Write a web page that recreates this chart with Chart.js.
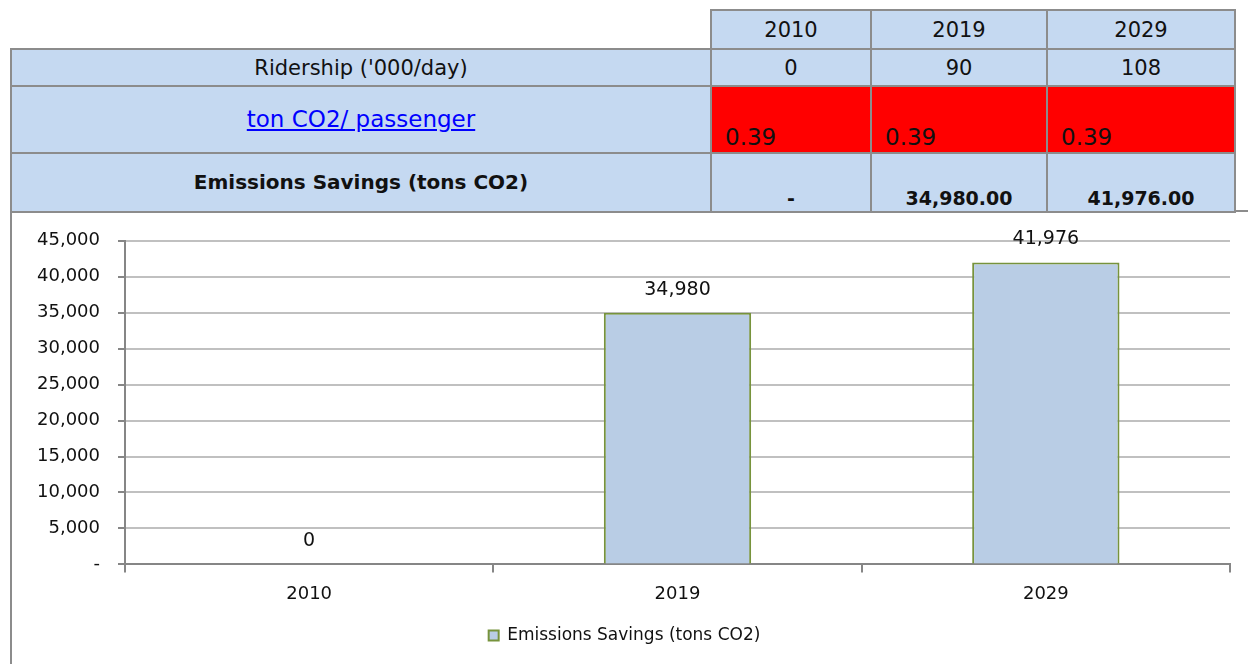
<!DOCTYPE html>
<html>
<head>
<meta charset="utf-8">
<script src="https://cdn.jsdelivr.net/npm/chart.js@4/dist/chart.umd.min.js"></script>
<style>
  body { margin: 0; background: #fff; font-family: "DejaVu Sans", sans-serif; }
  #page { position: relative; width: 1248px; height: 664px; overflow: hidden; }
  #tbl { position: absolute; left: 10px; top: 9px; border-collapse: collapse; table-layout: fixed; }
  #tbl td { border: 2px solid #8c8c8c; background: #c5d9f1; text-align: center; font-size: 21px; color: #111; padding: 0; }
  #tbl td.blank { border: none; background: #fff; }
  #tbl td.red { background: #ff0000; text-align: left; vertical-align: bottom; font-size: 23px; padding-left: 13px; padding-bottom: 2px; }
  #tbl td.bold { font-weight: bold; font-size: 19px; vertical-align: bottom; padding-bottom: 2px; }
  #tbl td.boldlabel { font-weight: bold; font-size: 20px; vertical-align: middle; padding-bottom: 2px; }
  #tbl a { color: #0000ff; text-decoration: underline; font-size: 23px; }
  #chartBox { position: absolute; left: 10px; top: 210px; width: 1260px; height: 470px; border-left: 2px solid #8c8c8c; border-top: 2px solid #8c8c8c; }
  #chartWrap { position: absolute; left: 12px; top: 212px; width: 1236px; height: 452px; }
</style>
</head>
<body>
<div id="page">
  <div id="chartBox"></div>
  <table id="tbl">
    <colgroup>
      <col style="width:700px"><col style="width:160px"><col style="width:176px"><col style="width:188px">
    </colgroup>
    <tbody id="tbody"></tbody>
  </table>
  <div id="chartWrap"><canvas id="myChart"></canvas></div>
</div>
<script>
var years = ['2010', '2019', '2029'];
var ridership = [0, 90, 108];
var co2PerPassenger = [0.39, 0.39, 0.39];
var savings = [0, 34980, 41976];
var seriesName = 'Emissions Savings (tons CO2)';

// build the table above the chart
function fmt(v, dec) {
    return v.toLocaleString('en-US', { minimumFractionDigits: dec, maximumFractionDigits: dec });
}

var rows = [];
rows.push('<tr style="height:39px"><td class="blank"></td>' + years.map(function (y) { return '<td>' + y + '</td>'; }).join('') + '</tr>');
rows.push('<tr style="height:37px"><td>Ridership (\'000/day)</td>' + ridership.map(function (v) { return '<td>' + v + '</td>'; }).join('') + '</tr>');
rows.push('<tr style="height:67px"><td style="vertical-align:middle;padding-bottom:2px"><a href="#">ton CO2/ passenger</a></td>' + co2PerPassenger.map(function (v) { return '<td class="red">' + v.toFixed(2) + '</td>'; }).join('') + '</tr>');
rows.push('<tr style="height:59px"><td class="boldlabel">' + seriesName + '</td>' + savings.map(function (v) { return '<td class="bold">' + (v === 0 ? '-' : fmt(v, 2)) + '</td>'; }).join('') + '</tr>');
document.getElementById('tbody').innerHTML = rows.join('');

// value labels above bars
var valueLabels = {
    id: 'valueLabels',
    afterDatasetsDraw: function (chart) {
        var ctx = chart.ctx;
        var meta = chart.getDatasetMeta(0);
        ctx.save();
        ctx.font = '19px "DejaVu Sans"';
        ctx.fillStyle = '#111';
        ctx.textAlign = 'center';
        ctx.textBaseline = 'middle';
        meta.data.forEach(function (bar, i) {
            ctx.fillText(fmt(savings[i], 0), bar.x, bar.y - 23);
        });
        ctx.restore();
    }
};

var ctx = document.getElementById('myChart').getContext('2d');
var myChart = new Chart(ctx, {
    type: 'bar',
    data: {
        labels: years,
        datasets: [{
            label: seriesName,
            data: savings,
            backgroundColor: '#b9cde5',
            borderColor: '#77933c',
            borderWidth: 2,
            categoryPercentage: 0.4,
            barPercentage: 1.0
        }]
    },
    options: {
        responsive: true,
        maintainAspectRatio: false,
        animation: false,
        layout: { padding: { top: 27, right: 18, left: 7, bottom: 10 } },
        plugins: {
            legend: {
                position: 'bottom',
                labels: {
                    boxWidth: 10,
                    boxHeight: 10,
                    color: '#111',
                    padding: 11,
                    font: { family: 'DejaVu Sans', size: 17 }
                }
            },
            tooltip: { enabled: false }
        },
        scales: {
            y: {
                min: 0,
                max: 45000,
                ticks: {
                    stepSize: 5000,
                    color: '#111',
                    padding: 18,
                    font: { family: 'DejaVu Sans', size: 18 },
                    callback: function (v) { return v === 0 ? '-' : fmt(v, 0); }
                },
                grid: { color: '#c0c0c0', lineWidth: 2, tickLength: 7, tickColor: '#868686' },
                border: { color: '#868686', width: 2 }
            },
            x: {
                ticks: {
                    color: '#111',
                    padding: 11,
                    font: { family: 'DejaVu Sans', size: 18 }
                },
                grid: { drawOnChartArea: false, offset: true, tickLength: 8, color: '#868686', lineWidth: 2 },
                border: { color: '#868686', width: 2 }
            }
        }
    },
    plugins: [valueLabels]
});
</script>
</body>
</html>
